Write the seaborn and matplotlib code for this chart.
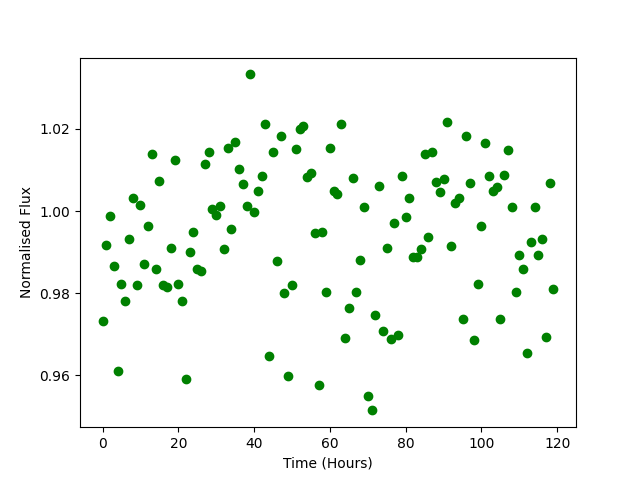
import matplotlib
matplotlib.use("Agg")
import matplotlib.pyplot as plt
import seaborn as sns
import numpy as np
import pandas as pd

# hourly samples, 0..119
hours = list(range(120))

flux = [
    0.9731, 0.9916, 0.9987, 0.9865, 0.9609, 0.9821, 0.9780, 0.9933, 1.0031, 0.9819,
    1.0014, 0.9872, 0.9963, 1.0138, 0.9858, 1.0072, 0.9819, 0.9814, 0.9909, 1.0124,
    0.9821, 0.9780, 0.9590, 0.9899, 0.9948, 0.9858, 0.9855, 1.0114, 1.0143, 1.0004,
    0.9990, 1.0012, 0.9907, 1.0153, 0.9955, 1.0168, 1.0102, 1.0065, 1.0012, 1.0333,
    0.9997, 1.0048, 1.0085, 1.0211, 0.9646, 1.0143, 0.9877, 1.0182, 0.9799, 0.9597,
    0.9819, 1.0150, 1.0199, 1.0207, 1.0082, 1.0092, 0.9946, 0.9577, 0.9950, 0.9802,
    1.0153, 1.0050, 1.0041, 1.0211, 0.9690, 0.9763, 1.0080, 0.9802, 0.9880, 1.0011,
    0.9548, 0.9514, 0.9746, 1.0060, 0.9707, 0.9911, 0.9687, 0.9972, 0.9699, 1.0085,
    0.9985, 1.0031, 0.9887, 0.9889, 0.9907, 1.0138, 0.9936, 1.0143, 1.0070, 1.0046,
    1.0077, 1.0216, 0.9914, 1.0020, 1.0031, 0.9738, 1.0182, 1.0068, 0.9685, 0.9821,
    0.9963, 1.0165, 1.0085, 1.0048, 1.0058, 0.9738, 1.0087, 1.0148, 1.0011, 0.9802,
    0.9892, 0.9859, 0.9653, 0.9924, 1.0009, 0.9892, 0.9931, 0.9692, 1.0068, 0.9811,
]

df = pd.DataFrame({"time": hours, "flux": flux})

fig, ax = plt.subplots(figsize=(6.4, 4.8), dpi=100)
sns.scatterplot(data=df, x="time", y="flux", color="green",
                edgecolor="green", linewidth=1, s=36, ax=ax)

ax.set_xlabel("Time (Hours)")
ax.set_ylabel("Normalised Flux")

fig.savefig("out.png", dpi=100)
